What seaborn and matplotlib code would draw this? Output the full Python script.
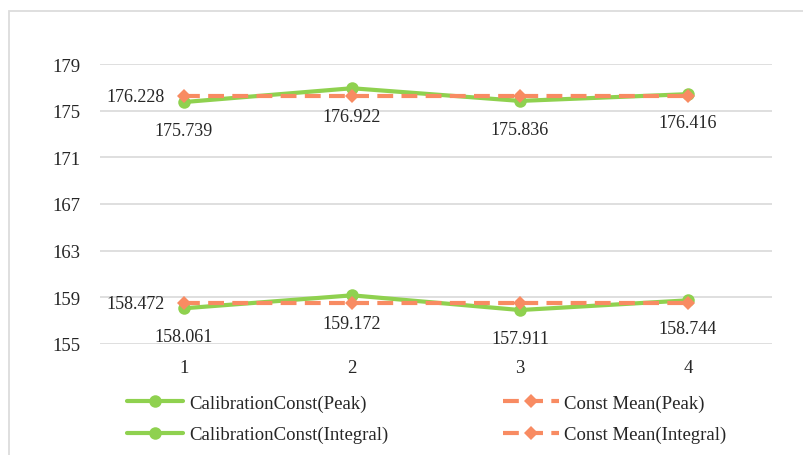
import numpy as np
import pandas as pd
import matplotlib
matplotlib.use("Agg")
import matplotlib.pyplot as plt
import seaborn as sns
from matplotlib.patches import Rectangle

# Calibration runs and measured constants
runs = [1, 2, 3, 4]
calib_peak = [175.739, 176.922, 175.836, 176.416]
calib_integral = [158.061, 159.172, 157.911, 158.744]
mean_peak = [176.228, 176.228, 176.228, 176.228]
mean_integral = [158.472, 158.472, 158.472, 158.472]
y_ticks = [155, 159, 163, 167, 171, 175, 179]

GREEN = "#8FD14F"
ORANGE = "#F88B62"
GRID = "#DCDCDC"
TEXT = "#262626"

sns.set_theme(style="white")
plt.rcParams["font.family"] = ["Liberation Serif", "DejaVu Serif"]

fig = plt.figure(figsize=(8.04, 4.56), dpi=100)
fig.patch.set_facecolor("white")
fig.patches.append(Rectangle((9 / 804, -0.1), 1.2, 1.1 - 11.5 / 456,
                             transform=fig.transFigure, fill=False,
                             edgecolor=GRID, linewidth=1.3))
ax = fig.add_axes([100 / 804, 1 - 345 / 456, 672 / 804, 280 / 456])

series = [
    ("CalibrationConst(Peak)", calib_peak, GREEN, "-", "o", 9, 2),
    ("Const Mean(Peak)", mean_peak, ORANGE, (0, (3.8, 2.0)), "D", 7.5, 3),
    ("CalibrationConst(Integral)", calib_integral, GREEN, "-", "o", 9, 2),
    ("Const Mean(Integral)", mean_integral, ORANGE, (0, (3.8, 2.0)), "D", 7.5, 3),
]
handles = {}
for name, vals, color, ls, mk, ms, z in series:
    df = pd.DataFrame({"run": runs, "value": vals})
    sns.lineplot(data=df, x="run", y="value", ax=ax, color=color,
                 linestyle=ls, linewidth=3, marker=mk, markersize=ms,
                 markeredgewidth=0, zorder=z, label=name, legend=False)
    handles[name] = ax.lines[-1]

# value labels under each calibration point
for vals in (calib_peak, calib_integral):
    for x, v in zip(runs, vals):
        ax.annotate(f"{v:.3f}", (x, v), xytext=(0, -20.5), textcoords="offset points",
                    ha="center", va="center", fontsize=13, color=TEXT)
# mean labels beside the first point
for vals in (mean_peak, mean_integral):
    ax.annotate(f"{vals[0]:.3f}", (runs[0], vals[0]), xytext=(-14, 0),
                textcoords="offset points", ha="right", va="center",
                fontsize=13, color=TEXT)

ax.set_xlim(0.5, 4.5)
ax.set_ylim(155, 179)
ax.set_yticks(y_ticks)
ax.set_xticks(runs)
ax.set_xlabel("")
ax.set_ylabel("")
ax.yaxis.grid(True, color=GRID, linewidth=1.3)
ax.set_axisbelow(True)
for s in ax.spines.values():
    s.set_visible(False)
ax.tick_params(axis="y", length=0, pad=14, labelsize=13.5, labelcolor=TEXT)
ax.tick_params(axis="x", length=0, pad=11, labelsize=13.5, labelcolor=TEXT)

order = ["CalibrationConst(Peak)", "CalibrationConst(Integral)",
         "Const Mean(Peak)", "Const Mean(Integral)"]
fig.legend([handles[n] for n in order], order, ncol=2, frameon=False,
           loc="center", bbox_to_anchor=(0.531, 1 - 420 / 456),
           fontsize=13.5, handlelength=3.0, handletextpad=0.3,
           columnspacing=6.1, labelspacing=0.75, labelcolor=TEXT)

fig.savefig("out.png", dpi=100)
